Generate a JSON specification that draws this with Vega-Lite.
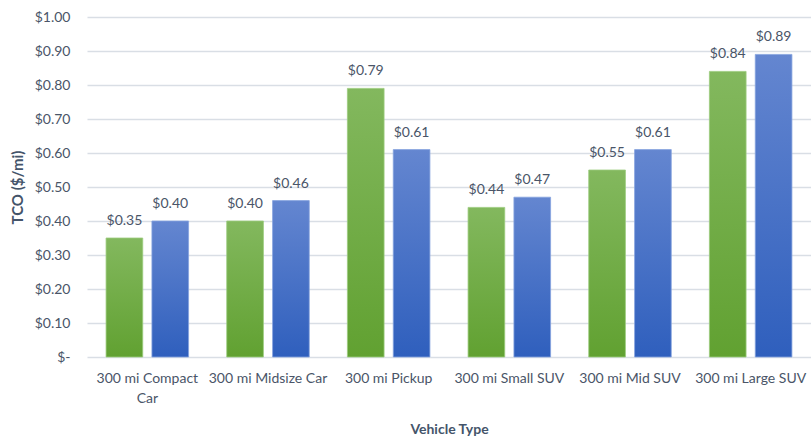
{
  "$schema": "https://vega.github.io/schema/vega-lite/v6.json",
  "autosize": "none",
  "width": 724,
  "height": 340,
  "padding": {"left": 87, "top": 17, "right": 0, "bottom": 83},
  "background": "#ffffff",
  "config": {
    "font": "Lato",
    "view": {"stroke": null},
    "axis": {
      "labelFont": "Lato",
      "titleFont": "Lato",
      "labelColor": "#4a5568",
      "titleColor": "#44546a",
      "labelFontSize": 14,
      "titleFontSize": 14,
      "titleFontWeight": "bold"
    }
  },
  "data": {
    "values": [
      {"vehicle": "300 mi Compact Car", "series": "A", "tco": 0.35},
      {"vehicle": "300 mi Compact Car", "series": "B", "tco": 0.40},
      {"vehicle": "300 mi Midsize Car", "series": "A", "tco": 0.40},
      {"vehicle": "300 mi Midsize Car", "series": "B", "tco": 0.46},
      {"vehicle": "300 mi Pickup", "series": "A", "tco": 0.79},
      {"vehicle": "300 mi Pickup", "series": "B", "tco": 0.61},
      {"vehicle": "300 mi Small SUV", "series": "A", "tco": 0.44},
      {"vehicle": "300 mi Small SUV", "series": "B", "tco": 0.47},
      {"vehicle": "300 mi Mid SUV", "series": "A", "tco": 0.55},
      {"vehicle": "300 mi Mid SUV", "series": "B", "tco": 0.61},
      {"vehicle": "300 mi Large SUV", "series": "A", "tco": 0.84},
      {"vehicle": "300 mi Large SUV", "series": "B", "tco": 0.89}
    ]
  },
  "encoding": {
    "x": {
      "field": "vehicle",
      "type": "nominal",
      "sort": null,
      "scale": {"paddingInner": 0.24, "paddingOuter": 0.12},
      "axis": {
        "title": "Vehicle Type",
        "labelAngle": 0,
        "domain": false,
        "ticks": false,
        "labelPadding": 14,
        "labelLineHeight": 20,
        "titlePadding": 17,
        "labelExpr": "datum.value == '300 mi Compact Car' ? ['300 mi Compact', 'Car'] : datum.value"
      }
    },
    "xOffset": {
      "field": "series",
      "type": "nominal",
      "scale": {"domain": ["A", "B"], "paddingInner": 0.2, "paddingOuter": 0.1}
    },
    "y": {
      "field": "tco",
      "type": "quantitative",
      "scale": {"domain": [0, 1], "nice": false},
      "axis": {
        "title": "TCO ($/mi)",
        "titleFontSize": 15,
        "values": [0, 0.1, 0.2, 0.3, 0.4, 0.5, 0.6, 0.7, 0.8, 0.9, 1.0],
        "labelExpr": "datum.value == 0 ? '$-' : '$' + format(datum.value, '.2f')",
        "domain": false,
        "ticks": false,
        "labelPadding": 17,
        "titlePadding": 9,
        "gridColor": "#d9dee5",
        "gridWidth": 1.5
      }
    }
  },
  "layer": [
    {
      "transform": [{"filter": "datum.series == 'A'"}],
      "mark": {
        "type": "bar",
        "fill": {
          "gradient": "linear", "x1": 0, "y1": 0, "x2": 0, "y2": 1,
          "stops": [
            {"offset": 0, "color": "#83b85e"},
            {"offset": 1, "color": "#61a131"}
          ]
        },
        "stroke": "#9ccb7e",
        "strokeWidth": 0.8
      }
    },
    {
      "transform": [{"filter": "datum.series == 'B'"}],
      "mark": {
        "type": "bar",
        "fill": {
          "gradient": "linear", "x1": 0, "y1": 0, "x2": 0, "y2": 1,
          "stops": [
            {"offset": 0, "color": "#6486d0"},
            {"offset": 1, "color": "#2f5fbd"}
          ]
        },
        "stroke": "#86a3de",
        "strokeWidth": 0.8
      }
    },
    {
      "mark": {
        "type": "text",
        "baseline": "alphabetic",
        "dy": -13,
        "fontSize": 14,
        "color": "#4a5568",
        "font": "Lato"
      },
      "encoding": {
        "text": {"field": "tco", "type": "quantitative", "format": "$.2f"}
      }
    }
  ]
}
